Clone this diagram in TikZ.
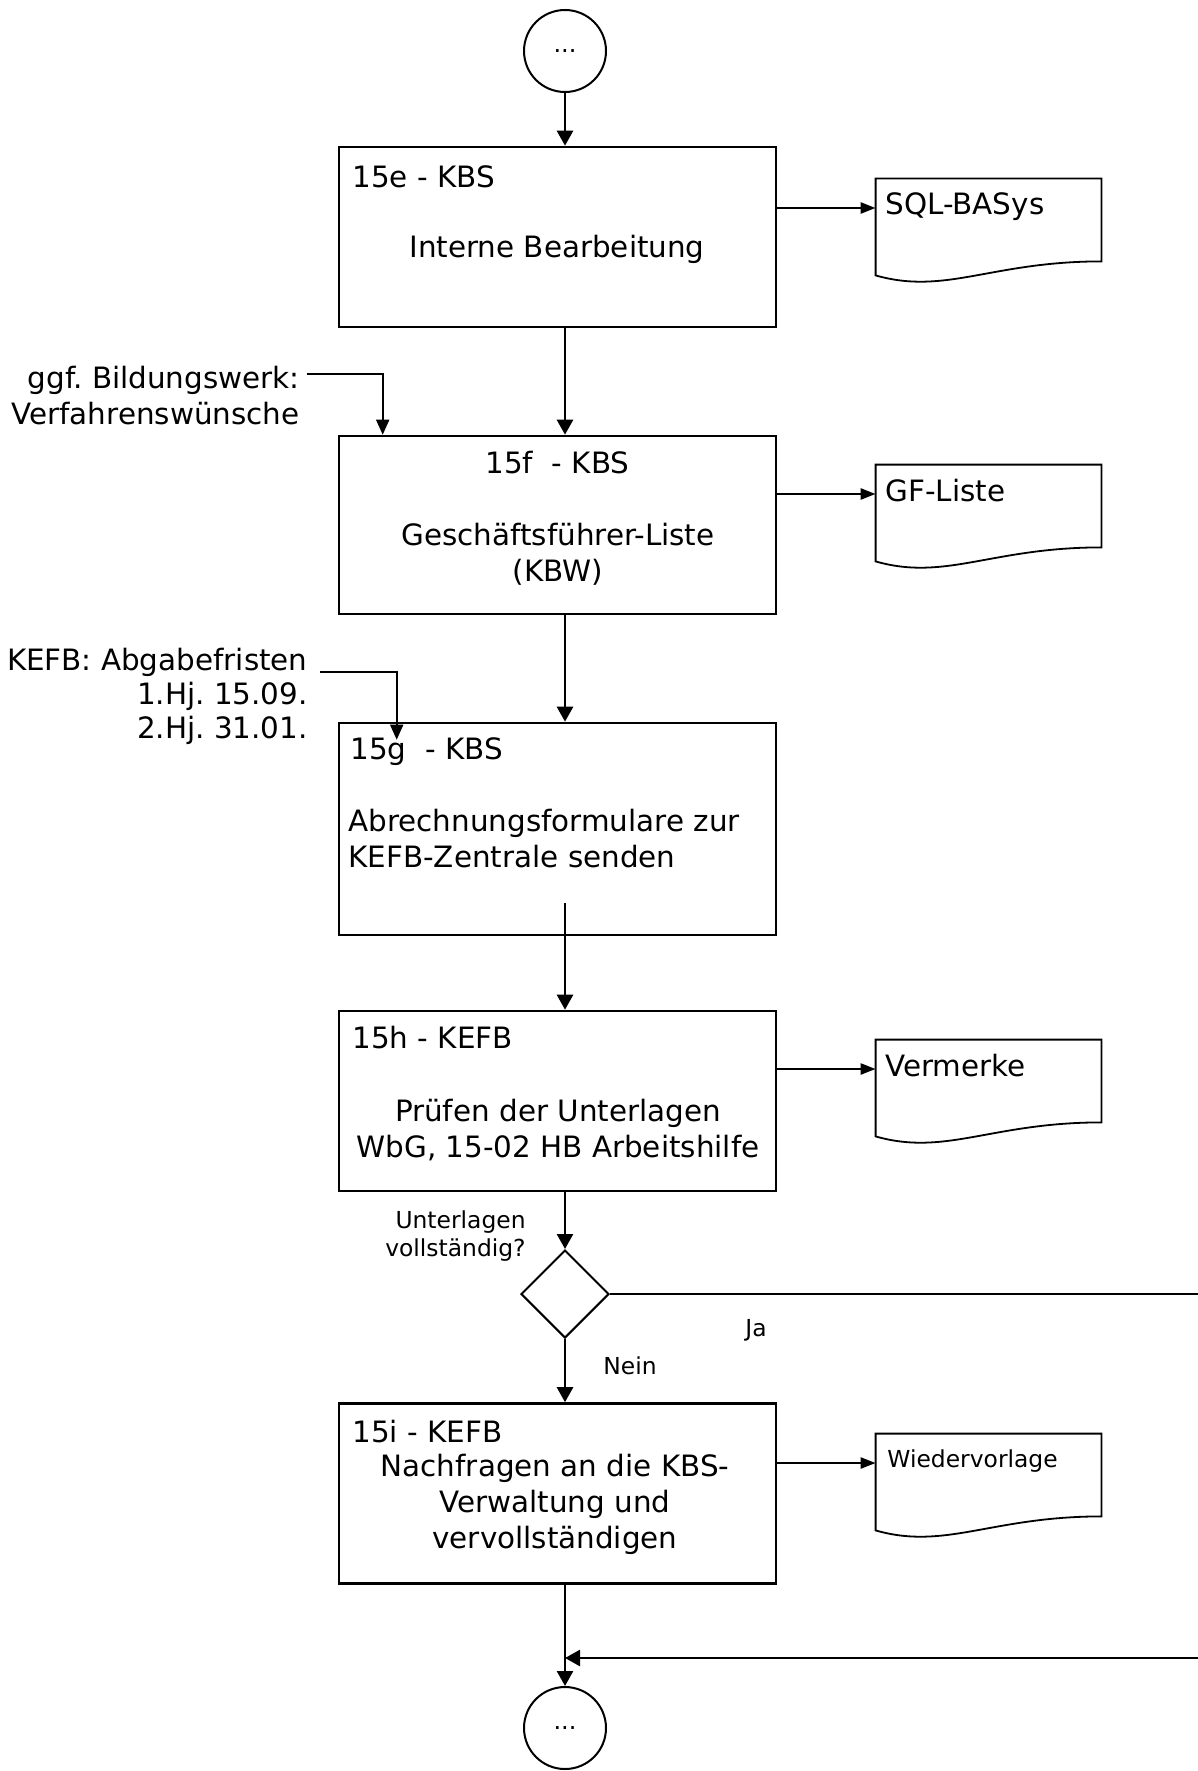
\documentclass[tikz,border=0pt]{standalone}
\usepackage{fontspec}
\setmainfont{DejaVu Sans}
\frenchspacing
\usetikzlibrary{positioning,calc,shapes.geometric,arrows.meta}
\tikzset{
  proc/.style={draw=black,line width=1.3pt,minimum width=218.5pt,minimum height=90pt,inner sep=0pt},
  term/.style={circle,draw=black,line width=1pt,minimum size=41pt,inner sep=0pt,font=\fontsize{12}{14}\selectfont},
  dec/.style={diamond,draw=black,line width=1pt,minimum width=44pt,minimum height=44pt,inner sep=0pt},
  doc/.style={minimum width=112.5pt,minimum height=48pt,inner sep=0pt},
  docline/.style={draw=black,line width=0.9pt},
  txt/.style={inner sep=0pt,font=\fontsize{14.7}{18}\selectfont},
  sidetxt/.style={inner sep=0pt,align=right,font=\fontsize{14.7}{17}\selectfont},
  small/.style={inner sep=0pt,font=\fontsize{11.7}{14}\selectfont},
  flow/.style={draw=black,line width=1.3pt,-{Triangle[length=7.5pt,width=8pt]}},
  plain/.style={draw=black,line width=1.2pt},
  docflow/.style={draw=black,line width=1.2pt,-{Triangle[length=7.5pt,width=5.5pt]}},
  feed/.style={draw=black,line width=0.9pt,-{Triangle[length=7.5pt,width=6.5pt]}},
}

\begin{document}
\begin{tikzpicture}[x=0.5pt,y=-0.5pt]
\useasboundingbox (0,0) rectangle (1198,1771);
\node[term] (start) at (565,51) {...};
\node[proc] (b15e) at (557.5,237) {};
\node[proc,minimum height=89pt] (b15f) at (557.5,525) {};
\node[proc,minimum height=106pt] (b15g) at (557.5,829) {};
\node[proc] (b15h) at (557.5,1101) {};
\node[dec] (q) at (565,1294) {};
\node[proc] (b15i) at (557.5,1493.5) {};
\node[term] (stop) at (565,1728) {...};

\node[txt,anchor=base west] (t15e) at (352,188) {15e - KBS};
\node[txt,anchor=base] (i15e) at (557,257) {Interne Bearbeitung};
\node[txt,anchor=base] (t15f) at (557.5,473) {15f~ - KBS};
\node[txt,align=center] (i15f) at (558,554) {Geschäftsführer-Liste\\(KBW)};
\node[txt,anchor=base west] (t15g) at (350,759) {15g~ - KBS};
\node[txt,align=left,anchor=west] (i15g) at (348,839) {Abrechnungsformulare zur\\KEFB-Zentrale senden};
\node[txt,anchor=base west] (t15h) at (352,1048) {15h - KEFB};
\node[txt,align=center] (i15h) at (558,1130.5) {Prüfen der Unterlagen\\WbG, 15-02 HB Arbeitshilfe};
\node[txt,anchor=base west] (t15i) at (352,1442) {15i - KEFB};
\node[txt,align=center] (i15i) at (555,1504) {Nachfragen an die KBS-\\Verwaltung und\\vervollständigen};

\node[doc] (dsql) at (988.5,227) {};
\node[doc] (dgf) at (988.5,513) {};
\node[doc] (dverm) at (988.5,1088) {};
\node[doc] (dwv) at (988.5,1482) {};
\foreach \d in {dsql,dgf,dverm,dwv}
  \draw[docline] (\d.south west) -- (\d.north west) -- (\d.north east) -- ([yshift=7pt]\d.south east) .. controls +(-110,0) and +(70,20) .. (\d.south west) -- cycle;
\node[txt,anchor=base west] (lsql) at (885,215) {SQL-BASys};
\node[txt,anchor=base west] (lgf) at (885,501) {GF-Liste};
\node[txt,anchor=base west] (lverm) at (885,1076) {Vermerke};
\node[small,anchor=base west] (lwv) at (887,1467) {Wiedervorlage};
\foreach \b/\d in {b15e/dsql,b15f/dgf,b15h/dverm,b15i/dwv}{
  \coordinate (\d-in) at ([yshift=9.5pt]\d.west);
  \draw[docflow] (\b.east |- \d-in) -- (\d-in);
}

\node[sidetxt,anchor=east,font=\fontsize{14.7}{18}\selectfont] (ggf) at (300,396) {ggf. Bildungswerk:\\Verfahrenswünsche};
\coordinate (ggfout) at (307,374);
\draw[feed] (ggfout) -| ([xshift=22.5pt]b15f.north west);
\node[sidetxt,anchor=east] (kefb) at (308,696) {KEFB: Abgabefristen\\1.Hj. 15.09.\\2.Hj. 31.01.};
\coordinate (kefbout) at (320,672);
\draw[feed] (kefbout) -| ([xshift=29.5pt,yshift=-9pt]b15g.north west);

\coordinate (gout) at (565,903);
\coordinate (jaout) at (1198,1294);
\coordinate (jain) at (1198,1658);
\draw[flow] (start.south) -- (start |- b15e.north);
\draw[flow] (start |- b15e.south) -- (start |- b15f.north);
\draw[flow] (start |- b15f.south) -- (start |- b15g.north);
\draw[flow] (gout) -- (gout |- b15h.north);
\draw[flow] (start |- b15h.south) -- (q.north);
\draw[flow] (q.south) -- (start |- b15i.north);
\draw[flow] (start |- b15i.south) -- (stop.north);
\draw[plain] (q.east) -- (jaout);
\draw[flow] (jain) -- (start |- jain);

\node[small,align=right,anchor=east] (qlab) at (526,1236) {Unterlagen\\vollständig?};
\node[small] (ja) at (756,1330) {Ja};
\node[small] (nein) at (630,1366) {Nein};
\end{tikzpicture}
\end{document}
